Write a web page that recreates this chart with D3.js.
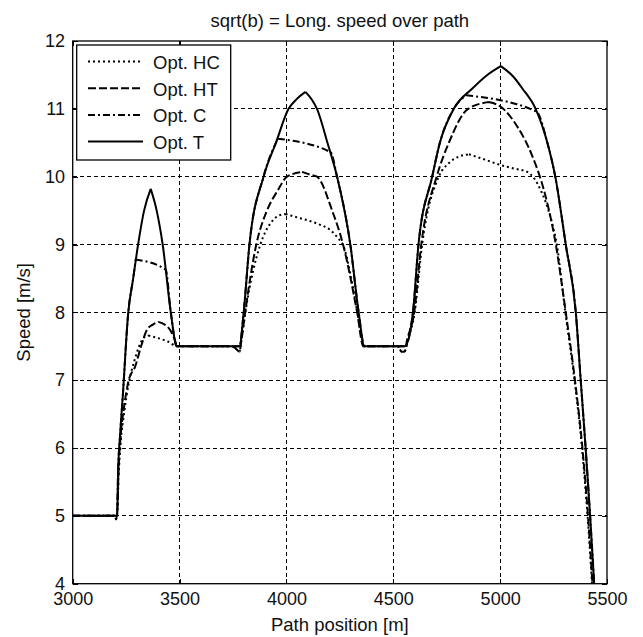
<!DOCTYPE html>
<html>
<head>
<meta charset="utf-8">
<script src="https://cdn.jsdelivr.net/npm/d3@7"></script>
<style>
  body { margin: 0; background: #fff; }
  svg { display: block; font-family: "Liberation Sans", Arial, sans-serif; }
</style>
</head>
<body>
<svg width="643" height="637"></svg>
<script>
// series names and style order (matches the legend)
const seriesNames = ["Opt. HC", "Opt. HT", "Opt. C", "Opt. T"];

// Opt. HC  (dotted)
const hcPos   = [3000, 3195, 3203, 3209, 3215, 3225, 3240, 3262, 3290, 3331, 3354, 3400, 3445, 3490,
                 3745, 3765, 3780, 3790, 3808, 3878, 3925, 3960, 3996, 4050, 4096, 4150, 4207, 4240, 4268, 4300, 4332, 4362,
                 4520, 4540, 4552, 4570, 4600, 4635, 4713, 4760, 4810, 4854, 4930, 5003, 5065, 5127, 5190, 5240, 5265, 5305, 5348, 5383, 5409, 5430];
const hcSpeed = [5, 5, 4.95, 5.1, 5.6, 6.1, 6.5, 6.95, 7.3, 7.62, 7.66, 7.62, 7.57, 7.5,
                 7.5, 7.46, 7.42, 7.6, 8, 9, 9.31, 9.42, 9.45, 9.4, 9.36, 9.3, 9.21, 9.1, 8.97, 8.55, 8, 7.5,
                 7.5, 7.42, 7.42, 7.6, 8, 9, 10, 10.2, 10.3, 10.33, 10.25, 10.17, 10.12, 10.07, 9.8, 9.35, 9, 8, 7, 6, 5, 4];

// Opt. HT  (dashed)
const htPos   = [3000, 3195, 3203, 3209, 3215, 3225, 3240, 3262, 3292, 3320, 3347, 3375, 3401, 3430, 3456, 3475, 3490,
                 3745, 3765, 3780, 3790, 3807, 3859, 3909, 3960, 4003, 4073, 4110, 4143, 4214, 4265, 4331, 4360,
                 4520, 4540, 4552, 4565, 4598, 4631, 4703, 4760, 4850, 4946, 5003, 5080, 5151, 5205, 5255, 5307, 5350, 5385, 5411, 5432];
const htSpeed = [5, 5, 4.95, 5.1, 5.7, 6.2, 6.6, 7.0, 7.2, 7.5, 7.74, 7.82, 7.86, 7.82, 7.74, 7.62, 7.5,
                 7.5, 7.46, 7.42, 7.6, 8, 9, 9.5, 9.8, 10, 10.07, 10.03, 10, 9.5, 9, 8, 7.5,
                 7.5, 7.42, 7.42, 7.6, 8, 9, 10, 10.5, 11, 11.1, 11.03, 10.74, 10.3, 9.8, 9.1, 8, 7, 6, 5, 4];

// Opt. C  (dash-dot)
const cPos   = [3000, 3200, 3208, 3212, 3222, 3234, 3260, 3283, 3295, 3435, 3459, 3487,
                3780, 3800, 3827, 3893, 3960, 4207, 4237, 4299, 4338, 4365,
                4554, 4592, 4618, 4682, 4718, 4783, 4841, 5170, 5221, 5258, 5307, 5354, 5377, 5400, 5421, 5440];
const cSpeed = [5, 5, 5, 5.6, 6.2, 6.75, 8, 8.5, 8.78, 8.63, 8, 7.5,
                7.5, 8, 9, 10, 10.56, 10.36, 10, 9, 8, 7.5,
                7.5, 8, 9, 10, 10.5, 11, 11.2, 10.96, 10.5, 10, 9, 8, 7, 6, 5, 4];

// Opt. T  (solid)
const tPos   = [3000, 3200, 3208, 3212, 3222, 3234, 3260, 3283, 3306, 3334, 3365, 3393, 3421, 3459, 3487,
                3780, 3800, 3827, 3893, 3951, 4010, 4050, 4089, 4120, 4143, 4192, 4237, 4299, 4338, 4365,
                4554, 4592, 4618, 4682, 4718, 4783, 4870, 4940, 5003, 5060, 5104, 5166, 5221, 5258, 5307, 5354, 5377, 5400, 5421, 5440];
const tSpeed = [5, 5, 5, 5.6, 6.2, 6.75, 8, 8.5, 9, 9.5, 9.82, 9.5, 9, 8, 7.5,
                7.5, 8, 9, 10, 10.5, 11, 11.15, 11.25, 11.13, 11, 10.5, 10, 9, 8, 7.5,
                7.5, 8, 9, 10, 10.5, 11, 11.3, 11.5, 11.63, 11.48, 11.3, 11, 10.5, 10, 9, 8, 7, 6, 5, 4];

const xTicks = [3000, 3500, 4000, 4500, 5000, 5500];
const yTicks = [4, 5, 6, 7, 8, 9, 10, 11, 12];

const titleText = "sqrt(b) = Long. speed over path";
const xLabel = "Path position [m]";
const yLabel = "Speed [m/s]";

// line styles per series
const dashes = ["2,3", "8,3", "7,3,2,3", null];

function zipSeries(pos, speed) {
    return pos.map((p, i) => ({x: p, v: speed[i]}));
}

// split a series at its local maxima so that peaks stay pointed
function splitAtPeaks(pts) {
    let segs = [];
    let cur = [pts[0]];
    for (let i = 1; i < pts.length; i++) {
        cur.push(pts[i]);
        if (i < pts.length - 1 && pts[i].v > pts[i - 1].v && pts[i].v > pts[i + 1].v) {
            segs.push(cur);
            cur = [pts[i]];
        }
    }
    segs.push(cur);
    return segs;
}

const allSeries = [
    zipSeries(hcPos, hcSpeed),
    zipSeries(htPos, htSpeed),
    zipSeries(cPos, cSpeed),
    zipSeries(tPos, tSpeed)
];

let svg = d3.select("svg");

const area = {left: 72.7, top: 41, right: 607, bottom: 583.7};

let scaleX = d3.scaleLinear().domain([3000, 5500]).range([area.left, area.right]);
let scaleY = d3.scaleLinear().domain([4, 12]).range([area.bottom, area.top]);

// grid (only inner lines, the frame covers the edges)
let grid = svg.append("g")
    .attr("stroke", "#000")
    .attr("stroke-width", 1)
    .attr("stroke-dasharray", "4,3")
    .attr("shape-rendering", "crispEdges");

grid.selectAll(".gx")
    .data(xTicks.slice(1, -1))
    .enter()
    .append("line")
    .attr("x1", d => scaleX(d))
    .attr("x2", d => scaleX(d))
    .attr("y1", area.top)
    .attr("y2", area.bottom);

grid.selectAll(".gy")
    .data(yTicks.slice(1, -1))
    .enter()
    .append("line")
    .attr("y1", d => scaleY(d))
    .attr("y2", d => scaleY(d))
    .attr("x1", area.left)
    .attr("x2", area.right);

// curves
svg.append("clipPath").attr("id", "plotclip")
    .append("rect")
    .attr("x", area.left).attr("y", area.top)
    .attr("width", area.right - area.left)
    .attr("height", area.bottom - area.top);

const lineGen = d3.line()
    .curve(d3.curveMonotoneX)
    .x(d => scaleX(d.x))
    .y(d => scaleY(d.v));

let curves = svg.append("g").attr("clip-path", "url(#plotclip)");
allSeries.forEach((s, i) => {
    const d = splitAtPeaks(s).map(seg => lineGen(seg)).join("");
    curves.append("path")
        .attr("d", d)
        .style("fill", "none")
        .style("stroke", "#000")
        .style("stroke-width", 2)
        .style("stroke-linejoin", "round")
        .style("stroke-dasharray", dashes[i]);
});

// axes: ticks pointing inward on all four sides
const fontSize = 18;

let axB = svg.append("g")
    .attr("transform", `translate(0, ${area.bottom})`)
    .call(d3.axisBottom(scaleX).tickValues(xTicks).tickSize(-5).tickPadding(8.5).tickFormat(d3.format("d")));
let axT = svg.append("g")
    .attr("transform", `translate(0, ${area.top})`)
    .call(d3.axisTop(scaleX).tickValues(xTicks).tickSize(-5).tickFormat(""));
let axL = svg.append("g")
    .attr("transform", `translate(${area.left}, 0)`)
    .call(d3.axisLeft(scaleY).tickValues(yTicks).tickSize(-5).tickPadding(7.7).tickFormat(d3.format("d")));
let axR = svg.append("g")
    .attr("transform", `translate(${area.right}, 0)`)
    .call(d3.axisRight(scaleY).tickValues(yTicks).tickSize(-5).tickFormat(""));

[axB, axT, axL, axR].forEach(a => {
    a.select(".domain").remove();
    a.selectAll("line").attr("stroke", "#000").attr("shape-rendering", "crispEdges");
    a.selectAll("text")
        .attr("fill", "#111")
        .style("font-family", "'Liberation Sans', Arial, sans-serif")
        .style("font-size", fontSize + "px");
});

// frame
svg.append("rect")
    .attr("x", area.left).attr("y", area.top)
    .attr("width", area.right - area.left)
    .attr("height", area.bottom - area.top)
    .attr("fill", "none")
    .attr("stroke", "#000")
    .attr("stroke-width", 1.3);

// title and axis labels
svg.append("text")
    .attr("x", (area.left + area.right) / 2)
    .attr("y", 27)
    .attr("text-anchor", "middle")
    .attr("fill", "#111")
    .style("font-size", "18.5px")
    .text(titleText);

svg.append("text")
    .attr("x", (area.left + area.right) / 2)
    .attr("y", 631)
    .attr("text-anchor", "middle")
    .attr("fill", "#111")
    .style("font-size", "18.5px")
    .text(xLabel);

svg.append("text")
    .attr("transform", `translate(30, ${(area.top + area.bottom) / 2}) rotate(-90)`)
    .attr("text-anchor", "middle")
    .attr("fill", "#111")
    .style("font-size", "18.5px")
    .text(yLabel);

// legend
const leg = {x: 76.7, y: 45, w: 154, h: 115, rowY: 61.5, rowStep: 26.7};
let legend = svg.append("g");
legend.append("rect")
    .attr("x", leg.x).attr("y", leg.y)
    .attr("width", leg.w).attr("height", leg.h)
    .attr("fill", "#fff")
    .attr("stroke", "#000")
    .attr("stroke-width", 1.3);

seriesNames.forEach((name, i) => {
    const yy = leg.rowY + i * leg.rowStep;
    legend.append("line")
        .attr("x1", 88).attr("x2", 143)
        .attr("y1", yy).attr("y2", yy)
        .style("stroke", "#000")
        .style("stroke-width", 2)
        .style("stroke-dasharray", dashes[i]);
    legend.append("text")
        .attr("x", 153)
        .attr("y", yy + 7.5)
        .attr("fill", "#111")
        .style("font-size", "18.5px")
        .text(name);
});
</script>
</body>
</html>
